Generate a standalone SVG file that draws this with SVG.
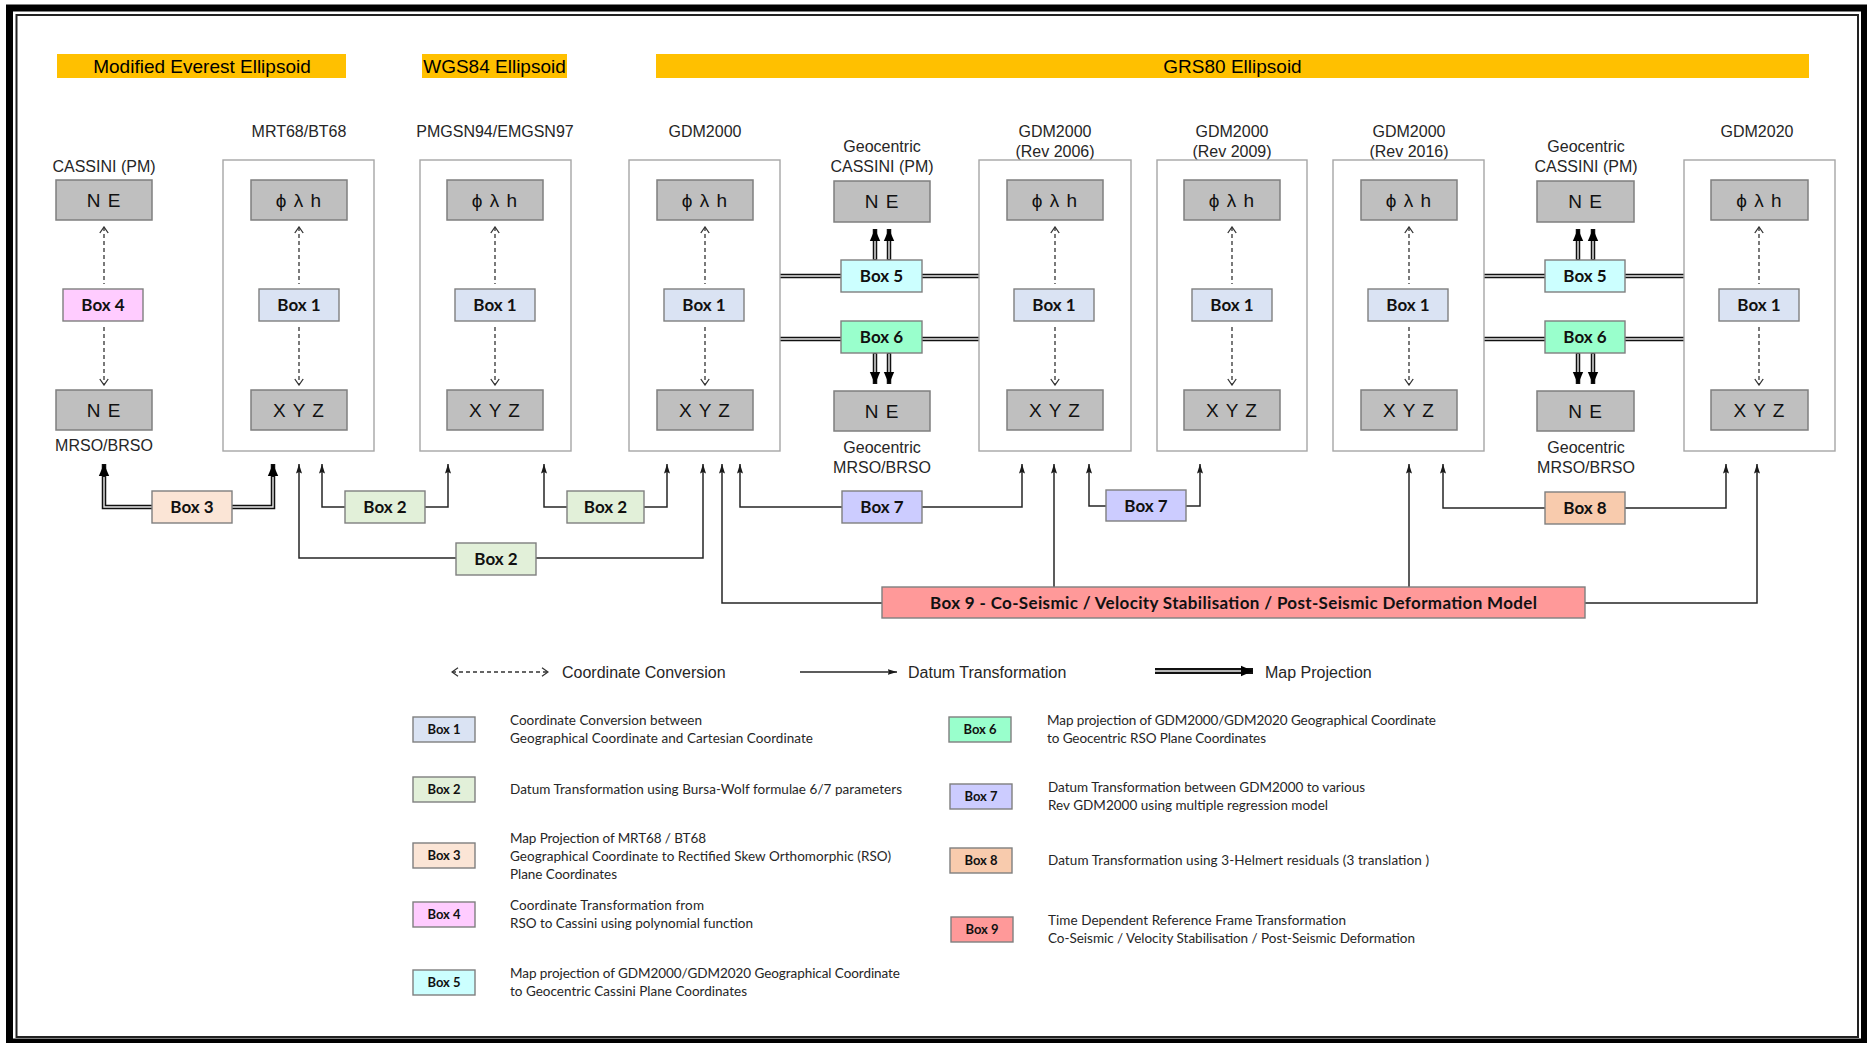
<svg xmlns="http://www.w3.org/2000/svg" width="1867" height="1043" viewBox="0 0 1867 1043">
  <defs>
    <style>
      .bar { fill: #FFC000; }
      .bart { font-family: "Liberation Sans", Arial, sans-serif; font-size: 19px; fill: #000; text-anchor: middle; }
      .lbl { font-family: "Liberation Sans", Arial, sans-serif; font-size: 16px; fill: #262626; text-anchor: middle; }
      .frame { fill: none; stroke: #A6A6A6; stroke-width: 1.4; }
      .cell { fill: #BFBFBF; stroke: #7F7F7F; stroke-width: 1.5; }
      .cellt { font-family: "Liberation Sans", "DejaVu Sans", Arial, sans-serif; font-size: 19px; fill: #111; text-anchor: middle; letter-spacing: 1px; }
      .bx { stroke: #7F7F7F; stroke-width: 1.4; }
      .bt { font-family: Lato, "Open Sans", sans-serif; font-weight: bold; font-size: 17px; fill: #111; text-anchor: middle; }
      .lt { font-family: Lato, "Open Sans", sans-serif; font-weight: bold; font-size: 13px; fill: #111; text-anchor: middle; }
      .desc { font-family: Lato, "Open Sans", sans-serif; font-size: 13.5px; fill: #262626; }
      .key { font-family: "Liberation Sans", Arial, sans-serif; font-size: 16px; fill: #262626; }
      .b1 { fill: #DAE3F3; } .b2 { fill: #E2F0D9; } .b3 { fill: #FBE5D6; }
      .b4 { fill: #FFCCFF; } .b5 { fill: #CCFFFF; } .b6 { fill: #99FFCC; }
      .b7 { fill: #CCCCFF; } .b8 { fill: #F8CBAD; } .b9 { fill: #FF9999; }
      .conv { fill: none; stroke: #333; stroke-width: 1.3; stroke-dasharray: 4 3; marker-start: url(#chev); marker-end: url(#chev); }
      .datum { fill: none; stroke: #262626; stroke-width: 1.5; marker-end: url(#dtHead); }
      .proj { fill: none; stroke: #111; stroke-width: 4.5; }
      .projh { marker-end: url(#mpHead); }
      .projin { fill: none; stroke: #e8e8e8; stroke-width: 1.4; }
    </style>
    <marker id="chev" markerUnits="userSpaceOnUse" markerWidth="10" markerHeight="10" viewBox="0 0 10 10" refX="9" refY="5" orient="auto-start-reverse">
      <path d="M3,0.8 L9,5 L3,9.2" fill="none" stroke="#333" stroke-width="1.3"/>
    </marker>
    <marker id="dtHead" markerUnits="userSpaceOnUse" markerWidth="10" markerHeight="10" viewBox="0 0 10 10" refX="9.5" refY="5" orient="auto">
      <path d="M0,2 L9.5,5 L0,8 L1.5,5 z" fill="#1a1a1a"/>
    </marker>
    <marker id="mpHead" markerUnits="userSpaceOnUse" markerWidth="12" markerHeight="12" viewBox="0 0 12 12" refX="12" refY="6" orient="auto">
      <path d="M0,0.8 L12,6 L0,11.2 z" fill="#000"/>
    </marker>
  </defs>

  <!-- page frame -->
  <rect x="0" y="0" width="1867" height="1043" fill="#fff"/>
  <rect x="9.5" y="8" width="1855" height="1034" fill="none" stroke="#000" stroke-width="7"/>
  <rect x="16.5" y="15" width="1841.5" height="1022" fill="none" stroke="#222" stroke-width="2"/>

  <!-- ellipsoid headers -->
  <g id="ellipsoids">
    <rect class="bar" x="57" y="54" width="289" height="24"/>
    <text class="bart" x="202" y="73">Modified Everest Ellipsoid</text>
    <rect class="bar" x="422" y="54" width="145" height="24"/>
    <text class="bart" x="494.5" y="73">WGS84 Ellipsoid</text>
    <rect class="bar" x="656" y="54" width="1153" height="24"/>
    <text class="bart" x="1232.5" y="73">GRS80 Ellipsoid</text>
  </g>

  <!-- connectors -->
  <g id="connectors">
    <!-- coordinate conversions (dashed, both ways) -->
    <path class="conv" d="M104,227 V284 M104,327 V385"/>
    <path class="conv" d="M299,227 V284 M299,327 V385"/>
    <path class="conv" d="M495,227 V284 M495,327 V385"/>
    <path class="conv" d="M705,227 V284 M705,327 V385"/>
    <path class="conv" d="M1055,227 V284 M1055,327 V385"/>
    <path class="conv" d="M1232,227 V284 M1232,327 V385"/>
    <path class="conv" d="M1409,227 V284 M1409,327 V385"/>
    <path class="conv" d="M1759,227 V284 M1759,327 V385"/>

    <!-- map projections (double lines) -->
    <path class="proj projh" d="M152,507 H104 V464"/>
    <path class="projin" d="M153,507 H104 V477"/>
    <path class="proj projh" d="M232,507 H273 V464"/>
    <path class="projin" d="M231,507 H273 V477"/>

    <path class="proj" d="M780,276 H841 M922,276 H979 M780,339 H841 M922,339 H979"/>
    <path class="projin" d="M780,276 H841 M922,276 H979 M780,339 H841 M922,339 H979"/>
    <path class="proj" d="M1484,276 H1545 M1624,276 H1684 M1484,339 H1545 M1624,339 H1684"/>
    <path class="projin" d="M1484,276 H1545 M1624,276 H1684 M1484,339 H1545 M1624,339 H1684"/>

    <path class="proj projh" d="M875,260 V229"/>
    <path class="proj projh" d="M889,260 V229"/>
    <path class="projin" d="M875,259 V241 M889,259 V241"/>
    <path class="proj projh" d="M875,353 V384"/>
    <path class="proj projh" d="M889,353 V384"/>
    <path class="projin" d="M875,354 V372 M889,354 V372"/>

    <path class="proj projh" d="M1578,260 V229"/>
    <path class="proj projh" d="M1593,260 V229"/>
    <path class="projin" d="M1578,259 V241 M1593,259 V241"/>
    <path class="proj projh" d="M1578,353 V384"/>
    <path class="proj projh" d="M1593,353 V384"/>
    <path class="projin" d="M1578,354 V372 M1593,354 V372"/>

    <!-- datum transformations -->
    <path class="datum" d="M345,507 H322 V464"/>
    <path class="datum" d="M425,507 H448 V464"/>
    <path class="datum" d="M567,507 H544 V464"/>
    <path class="datum" d="M644,507 H667 V464"/>
    <path class="datum" d="M456,558 H299 V464"/>
    <path class="datum" d="M536,558 H703 V464"/>
    <path class="datum" d="M842,507 H740 V464"/>
    <path class="datum" d="M922,507 H1022 V464"/>
    <path class="datum" d="M1106,506 H1089 V464"/>
    <path class="datum" d="M1186,506 H1200 V464"/>
    <path class="datum" d="M1545,508 H1443 V464"/>
    <path class="datum" d="M1625,508 H1726 V464"/>
    <path class="datum" d="M882,603 H722 V464"/>
    <path class="datum" d="M1054,587 V464"/>
    <path class="datum" d="M1409,587 V464"/>
    <path class="datum" d="M1585,603 H1757 V464"/>
  </g>

  <!-- Cassini / MRSO column -->
  <g id="cassini-mrso">
    <text class="lbl" x="104" y="172">CASSINI (PM)</text>
    <rect class="cell" x="56" y="180" width="96" height="40"/>
    <text class="cellt" x="104" y="207">N E</text>
    <rect class="bx b4" x="63" y="289" width="80" height="32"/>
    <text class="bt" x="103" y="311">Box 4</text>
    <rect class="cell" x="56" y="390" width="96" height="40"/>
    <text class="cellt" x="104" y="417">N E</text>
    <text class="lbl" x="104" y="451">MRSO/BRSO</text>
  </g>

  <g id="mrt68">
    <text class="lbl" x="299" y="137">MRT68/BT68</text>
    <rect class="frame" x="223" y="160" width="151" height="291"/>
    <rect class="cell" x="251" y="180" width="96" height="40"/>
    <text class="cellt" x="299" y="207">ϕ λ h</text>
    <rect class="bx b1" x="259" y="289" width="80" height="32"/>
    <text class="bt" x="299" y="311">Box 1</text>
    <rect class="cell" x="251" y="390" width="96" height="40"/>
    <text class="cellt" x="299" y="417">X Y Z</text>
  </g>

  <g id="pmgsn94">
    <text class="lbl" x="495" y="137">PMGSN94/EMGSN97</text>
    <rect class="frame" x="420" y="160" width="151" height="291"/>
    <rect class="cell" x="447" y="180" width="96" height="40"/>
    <text class="cellt" x="495" y="207">ϕ λ h</text>
    <rect class="bx b1" x="455" y="289" width="80" height="32"/>
    <text class="bt" x="495" y="311">Box 1</text>
    <rect class="cell" x="447" y="390" width="96" height="40"/>
    <text class="cellt" x="495" y="417">X Y Z</text>
  </g>

  <g id="gdm2000">
    <text class="lbl" x="705" y="137">GDM2000</text>
    <rect class="frame" x="629" y="160" width="151" height="291"/>
    <rect class="cell" x="657" y="180" width="96" height="40"/>
    <text class="cellt" x="705" y="207">ϕ λ h</text>
    <rect class="bx b1" x="664" y="289" width="80" height="32"/>
    <text class="bt" x="704" y="311">Box 1</text>
    <rect class="cell" x="657" y="390" width="96" height="40"/>
    <text class="cellt" x="705" y="417">X Y Z</text>
  </g>

  <g id="geocentric-1">
    <text class="lbl" x="882" y="152">Geocentric</text>
    <text class="lbl" x="882" y="172">CASSINI (PM)</text>
    <rect class="cell" x="834" y="181" width="96" height="41"/>
    <text class="cellt" x="882" y="208">N E</text>
    <rect class="bx b5" x="841" y="260" width="81" height="32"/>
    <text class="bt" x="881.5" y="282">Box 5</text>
    <rect class="bx b6" x="841" y="321" width="81" height="32"/>
    <text class="bt" x="881.5" y="343">Box 6</text>
    <rect class="cell" x="834" y="391" width="96" height="40"/>
    <text class="cellt" x="882" y="418">N E</text>
    <text class="lbl" x="882" y="453">Geocentric</text>
    <text class="lbl" x="882" y="473">MRSO/BRSO</text>
  </g>

  <g id="gdm2000-rev2006">
    <text class="lbl" x="1055" y="137">GDM2000</text>
    <text class="lbl" x="1055" y="157">(Rev 2006)</text>
    <rect class="frame" x="979" y="160" width="152" height="291"/>
    <rect class="cell" x="1007" y="180" width="96" height="40"/>
    <text class="cellt" x="1055" y="207">ϕ λ h</text>
    <rect class="bx b1" x="1014" y="289" width="80" height="32"/>
    <text class="bt" x="1054" y="311">Box 1</text>
    <rect class="cell" x="1007" y="390" width="96" height="40"/>
    <text class="cellt" x="1055" y="417">X Y Z</text>
  </g>

  <g id="gdm2000-rev2009">
    <text class="lbl" x="1232" y="137">GDM2000</text>
    <text class="lbl" x="1232" y="157">(Rev 2009)</text>
    <rect class="frame" x="1157" y="160" width="150" height="291"/>
    <rect class="cell" x="1184" y="180" width="96" height="40"/>
    <text class="cellt" x="1232" y="207">ϕ λ h</text>
    <rect class="bx b1" x="1192" y="289" width="80" height="32"/>
    <text class="bt" x="1232" y="311">Box 1</text>
    <rect class="cell" x="1184" y="390" width="96" height="40"/>
    <text class="cellt" x="1232" y="417">X Y Z</text>
  </g>

  <g id="gdm2000-rev2016">
    <text class="lbl" x="1409" y="137">GDM2000</text>
    <text class="lbl" x="1409" y="157">(Rev 2016)</text>
    <rect class="frame" x="1333" y="160" width="151" height="291"/>
    <rect class="cell" x="1361" y="180" width="96" height="40"/>
    <text class="cellt" x="1409" y="207">ϕ λ h</text>
    <rect class="bx b1" x="1368" y="289" width="80" height="32"/>
    <text class="bt" x="1408" y="311">Box 1</text>
    <rect class="cell" x="1361" y="390" width="96" height="40"/>
    <text class="cellt" x="1409" y="417">X Y Z</text>
  </g>

  <g id="geocentric-2">
    <text class="lbl" x="1586" y="152">Geocentric</text>
    <text class="lbl" x="1586" y="172">CASSINI (PM)</text>
    <rect class="cell" x="1537" y="181" width="97" height="41"/>
    <text class="cellt" x="1585.5" y="208">N E</text>
    <rect class="bx b5" x="1545" y="260" width="80" height="32"/>
    <text class="bt" x="1585" y="282">Box 5</text>
    <rect class="bx b6" x="1545" y="321" width="80" height="32"/>
    <text class="bt" x="1585" y="343">Box 6</text>
    <rect class="cell" x="1537" y="391" width="97" height="40"/>
    <text class="cellt" x="1585.5" y="418">N E</text>
    <text class="lbl" x="1586" y="453">Geocentric</text>
    <text class="lbl" x="1586" y="473">MRSO/BRSO</text>
  </g>

  <g id="gdm2020">
    <text class="lbl" x="1757" y="137">GDM2020</text>
    <rect class="frame" x="1684" y="160" width="151" height="291"/>
    <rect class="cell" x="1711" y="180" width="97" height="40"/>
    <text class="cellt" x="1759.5" y="207">ϕ λ h</text>
    <rect class="bx b1" x="1719" y="289" width="80" height="32"/>
    <text class="bt" x="1759" y="311">Box 1</text>
    <rect class="cell" x="1711" y="390" width="97" height="40"/>
    <text class="cellt" x="1759.5" y="417">X Y Z</text>
  </g>

  <!-- transformation boxes below the columns -->
  <g id="box3"><rect class="bx b3" x="152" y="491" width="80" height="32"/><text class="bt" x="192" y="513">Box 3</text></g>
  <g id="box2-a"><rect class="bx b2" x="345" y="491" width="80" height="32"/><text class="bt" x="385" y="513">Box 2</text></g>
  <g id="box2-b"><rect class="bx b2" x="567" y="491" width="77" height="32"/><text class="bt" x="605.5" y="513">Box 2</text></g>
  <g id="box2-c"><rect class="bx b2" x="456" y="543" width="80" height="32"/><text class="bt" x="496" y="565">Box 2</text></g>
  <g id="box7-a"><rect class="bx b7" x="842" y="491" width="80" height="32"/><text class="bt" x="882" y="513">Box 7</text></g>
  <g id="box7-b"><rect class="bx b7" x="1106" y="490" width="80" height="31"/><text class="bt" x="1146" y="511.5">Box 7</text></g>
  <g id="box8"><rect class="bx b8" x="1545" y="492" width="80" height="32"/><text class="bt" x="1585" y="514">Box 8</text></g>
  <g id="box9"><rect class="bx b9" x="882" y="587" width="703" height="31"/><text class="bt" x="1233.5" y="609" textLength="607">Box 9 - Co-Seismic / Velocity Stabilisation / Post-Seismic Deformation Model</text></g>

  <!-- key -->
  <g id="key-lines">
    <path class="conv" d="M452,672 H548"/>
    <text class="key" x="562" y="677.5">Coordinate Conversion</text>
    <path class="datum" d="M800,672 H897"/>
    <text class="key" x="908" y="677.5">Datum Transformation</text>
    <path d="M1155,671 H1253" fill="none" stroke="#111" stroke-width="6" marker-end="url(#mpHead)"/>
    <path d="M1155,671 H1241" fill="none" stroke="#eee" stroke-width="1.6"/>
    <text class="key" x="1265" y="677.5">Map Projection</text>
  </g>

  <g id="key-box1"><rect class="bx b1" x="413" y="717" width="62" height="25"/><text class="lt" x="444" y="734">Box 1</text>
    <text class="desc" x="510" y="725" textLength="192">Coordinate Conversion between</text>
    <text class="desc" x="510" y="743" textLength="303">Geographical Coordinate and Cartesian Coordinate</text></g>
  <g id="key-box2"><rect class="bx b2" x="413" y="777" width="62" height="25"/><text class="lt" x="444" y="794">Box 2</text>
    <text class="desc" x="510" y="793.5" textLength="392">Datum Transformation using Bursa-Wolf formulae 6/7 parameters</text></g>
  <g id="key-box3"><rect class="bx b3" x="413" y="843" width="62" height="25"/><text class="lt" x="444" y="860">Box 3</text>
    <text class="desc" x="510" y="842.5" textLength="196">Map Projection of MRT68 / BT68</text>
    <text class="desc" x="510" y="860.5" textLength="381">Geographical Coordinate to Rectified Skew Orthomorphic (RSO)</text>
    <text class="desc" x="510" y="878.5" textLength="107">Plane Coordinates</text></g>
  <g id="key-box4"><rect class="bx b4" x="413" y="902" width="62" height="25"/><text class="lt" x="444" y="919">Box 4</text>
    <text class="desc" x="510" y="910" textLength="194">Coordinate Transformation from</text>
    <text class="desc" x="510" y="928" textLength="243">RSO to Cassini using polynomial function</text></g>
  <g id="key-box5"><rect class="bx b5" x="413" y="970" width="62" height="25"/><text class="lt" x="444" y="987">Box 5</text>
    <text class="desc" x="510" y="978" textLength="390">Map projection of GDM2000/GDM2020 Geographical Coordinate</text>
    <text class="desc" x="510" y="996" textLength="237">to Geocentric Cassini Plane Coordinates</text></g>

  <g id="key-box6"><rect class="bx b6" x="949" y="717" width="62" height="25"/><text class="lt" x="980" y="734">Box 6</text>
    <text class="desc" x="1047" y="725" textLength="389">Map projection of GDM2000/GDM2020 Geographical Coordinate</text>
    <text class="desc" x="1047" y="743" textLength="219">to Geocentric RSO Plane Coordinates</text></g>
  <g id="key-box7"><rect class="bx b7" x="950" y="784" width="62" height="25"/><text class="lt" x="981" y="801">Box 7</text>
    <text class="desc" x="1048" y="792" textLength="317">Datum Transformation between GDM2000 to various</text>
    <text class="desc" x="1048" y="810" textLength="280">Rev GDM2000 using multiple regression model</text></g>
  <g id="key-box8"><rect class="bx b8" x="950" y="848" width="62" height="25"/><text class="lt" x="981" y="865">Box 8</text>
    <text class="desc" x="1048" y="865" textLength="381">Datum Transformation using 3-Helmert residuals (3 translation )</text></g>
  <g id="key-box9"><rect class="bx b9" x="951" y="917" width="62" height="25"/><text class="lt" x="982" y="934">Box 9</text>
    <text class="desc" x="1048" y="925" textLength="298">Time Dependent Reference Frame Transformation</text>
    <text class="desc" x="1048" y="943" textLength="367">Co-Seismic / Velocity Stabilisation / Post-Seismic Deformation</text></g>
</svg>
